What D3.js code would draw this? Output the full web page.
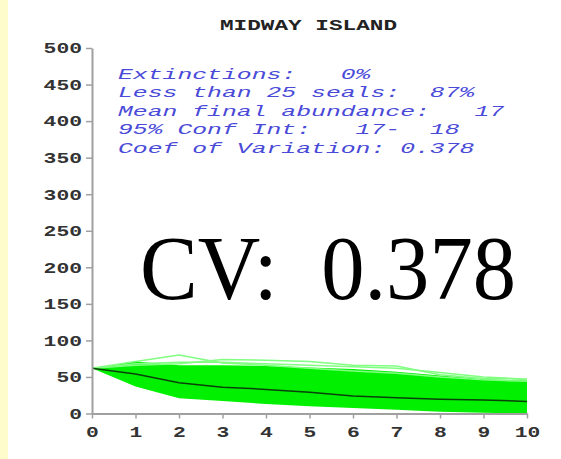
<!DOCTYPE html>
<html><head><meta charset="utf-8">
<script src="https://cdn.jsdelivr.net/npm/d3@7"></script>
<style>
html,body{margin:0;padding:0;background:#fff;}
svg text{white-space:pre;}
</style></head>
<body>
<script>
// ---- data ----
const years = [0,1,2,3,4,5,6,7,8,9,10];
const meanAbundance = [62,54,42,36,33,29,24,21.5,19.5,18.5,16.5];
const upperBand = [62,71,66,66,65,63,61,57,52,47,45];
const lowerBand = [62,37,21,17,13,10,7.5,5,2.5,1,0];
const outlierA = [62,71,80,69,66,62,58,55,50,46,44];
const outlierB = [62,66,68,74,73,71,66,65,53,48,47];
const outlierC = [62,68,70,70,68,66,64,62,56,50,47];
const yTicks = [0,50,100,150,200,250,300,350,400,450,500];
const xTicks = [0,1,2,3,4,5,6,7,8,9,10];
const title = "MIDWAY ISLAND";
const statLines = [
  "Extinctions:   0%",
  "Less than 25 seals:  87%",
  "Mean final abundance:   17",
  "95% Conf Int:   17-  18",
  "Coef of Variation: 0.378"
];
const bigLabel = "CV:  0.378";

// ---- chart ----
const W = 561, H = 459;
const svg = d3.select("body").append("svg").attr("width", W).attr("height", H);
svg.append("rect").attr("x",0).attr("y",0).attr("width",W).attr("height",H).attr("fill","#fff");
svg.append("rect").attr("x",0).attr("y",0).attr("width",8).attr("height",H).attr("fill","#fffccc");

const x = d3.scaleLinear().domain([0,10]).range([92,527]);
const y = d3.scaleLinear().domain([0,500]).range([413.5,48]);

// band
const area = d3.area().x((d,i)=>x(years[i])).y0((d,i)=>y(lowerBand[i])).y1(d=>y(d));
svg.append("path").datum(upperBand).attr("d", area).attr("fill","#00f000");

const line = d3.line().x((d,i)=>x(years[i])).y(d=>y(d));
[outlierA, outlierB, outlierC].forEach(s=>{
  svg.append("path").datum(s).attr("d", line).attr("fill","none")
    .attr("stroke","#80ff80").attr("stroke-width",1.5);
});
svg.append("path").datum(meanAbundance).attr("d", line).attr("fill","none")
  .attr("stroke","#0a400a").attr("stroke-width",1.5);

// axes
const axisColor = "#a0a0a0";
const yAxis = svg.append("g").attr("transform","translate(92,0)")
  .call(d3.axisLeft(y).tickValues(yTicks).tickSize(6).tickPadding(4).tickSizeOuter(0));
const xAxis = svg.append("g").attr("transform","translate(0,413.5)")
  .call(d3.axisBottom(x).tickValues(xTicks).tickSize(5).tickPadding(8).tickSizeOuter(0));
[yAxis, xAxis].forEach(g=>{
  g.select(".domain").attr("stroke",axisColor).attr("stroke-width",2);
  g.selectAll(".tick line").attr("stroke",axisColor).attr("stroke-width",1.5);
  g.selectAll(".tick text").attr("fill","#333")
    .style("font-family","'Liberation Mono', monospace").style("font-weight","bold").style("font-size","15px")
    .attr("textLength", d => String(d).length*12.8).attr("lengthAdjust","spacingAndGlyphs");
});

// title
svg.append("text").attr("x",220).attr("y",29.5).text(title)
  .style("font-family","'Liberation Mono', monospace").style("font-weight","bold").style("font-size","14px")
  .attr("fill","#222").attr("textLength",177).attr("lengthAdjust","spacingAndGlyphs");

// stats text
const baseY = [79, 97, 116, 134, 153];
svg.selectAll("text.stat").data(statLines).enter().append("text").attr("class","stat")
  .attr("x",118).attr("y",(d,i)=>baseY[i]).text(d=>d)
  .style("font-family","'Liberation Mono', monospace").style("font-style","italic").style("font-size","15px")
  .attr("fill","#4a4ad8")
  .attr("textLength", d=>d.length*14.85).attr("lengthAdjust","spacingAndGlyphs");

// big label
svg.append("text").attr("x",140).attr("y",299).text(bigLabel)
  .style("font-family","'Liberation Serif', 'Times New Roman', serif").style("font-size","90px")
  .attr("fill","#000").attr("textLength",376).attr("lengthAdjust","spacingAndGlyphs");
</script>
</body></html>
